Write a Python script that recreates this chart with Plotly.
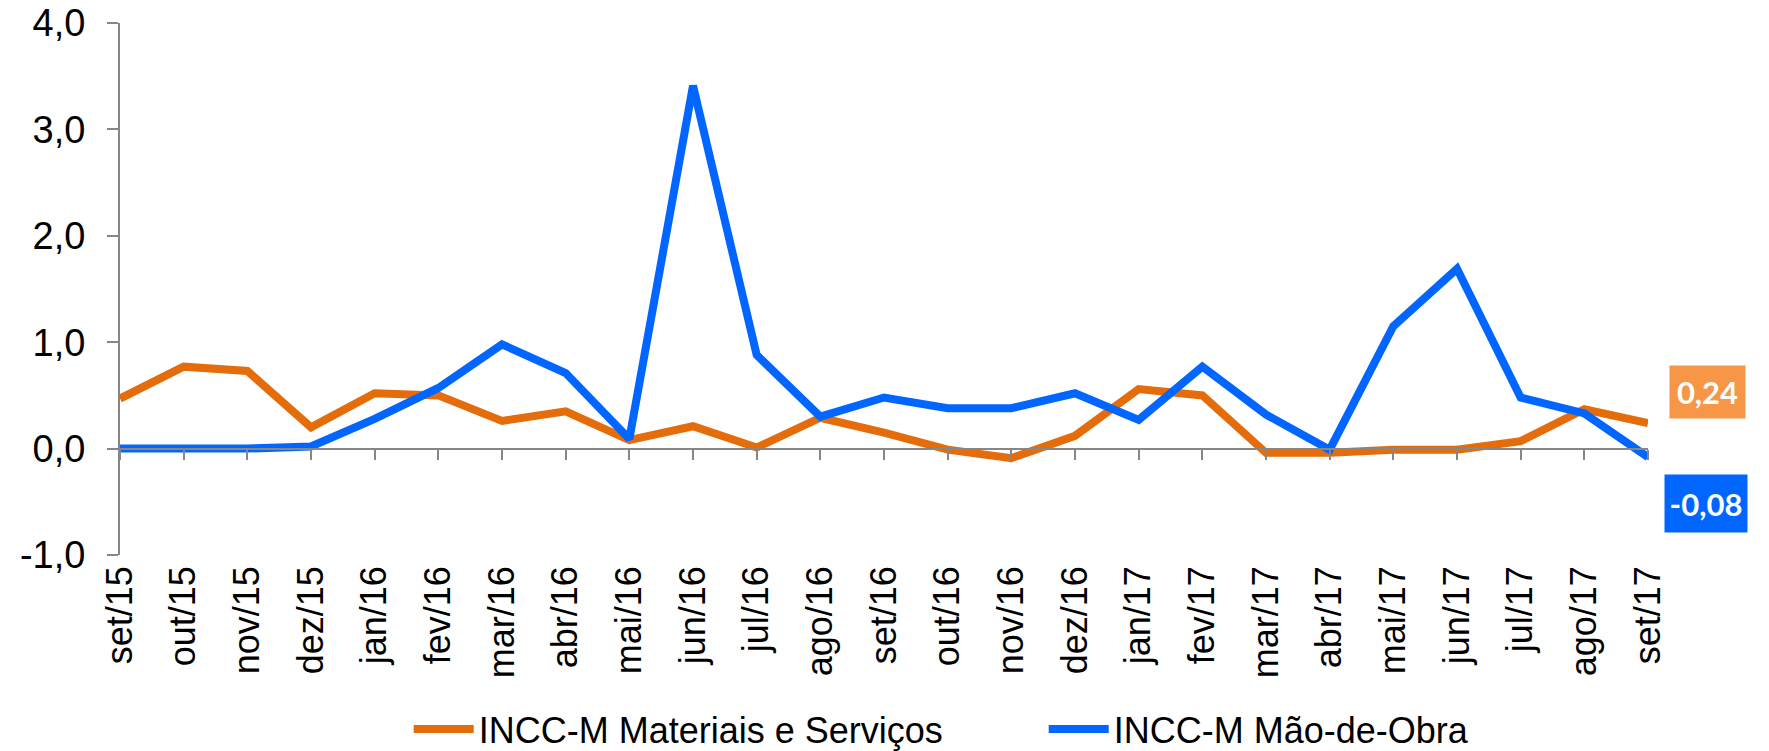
import plotly.graph_objects as go

months = ["set/15", "out/15", "nov/15", "dez/15", "jan/16", "fev/16", "mar/16", "abr/16",
          "mai/16", "jun/16", "jul/16", "ago/16", "set/16", "out/16", "nov/16", "dez/16",
          "jan/17", "fev/17", "mar/17", "abr/17", "mai/17", "jun/17", "jul/17", "ago/17", "set/17"]

materiais = [0.47, 0.77, 0.73, 0.20, 0.52, 0.50, 0.26, 0.35, 0.08, 0.21, 0.01, 0.29,
             0.15, -0.01, -0.09, 0.12, 0.56, 0.50, -0.04, -0.04, -0.01, -0.01, 0.07, 0.37, 0.24]

mao_obra = [0.00, 0.00, 0.00, 0.02, 0.28, 0.57, 0.98, 0.71, 0.09, 3.41, 0.88, 0.30,
            0.48, 0.38, 0.38, 0.52, 0.27, 0.77, 0.32, -0.01, 1.15, 1.69, 0.48, 0.33, -0.08]

y_tick_vals = [-1, 0, 1, 2, 3, 4]
y_tick_text = ["-1,0", "0,0", "1,0", "2,0", "3,0", "4,0"]

name_mat = "INCC-M Materiais e Serviços"
name_mao = "INCC-M Mão-de-Obra"
label_mat = "0,24"
label_mao = "-0,08"

ORANGE = "#E46C0A"
BLUE = "#0066FF"
GRAY = "#868686"
FONT = "Liberation Sans, Arial, sans-serif"

W, H = 1769, 751

fig = go.Figure()
fig.add_trace(go.Scatter(x=months, y=materiais, mode="lines", name=name_mat,
                         line=dict(color=ORANGE, width=8), cliponaxis=False))
fig.add_trace(go.Scatter(x=months, y=mao_obra, mode="lines", name=name_mao,
                         line=dict(color=BLUE, width=8), cliponaxis=False))
# invisible helper trace for the category axis drawn at y = 0
fig.add_trace(go.Scatter(x=list(range(len(months))), y=[0] * len(months), xaxis="x2",
                         mode="lines", line=dict(width=0), showlegend=False,
                         hoverinfo="skip"))

fig.update_layout(
    width=W, height=H,
    margin=dict(l=120, r=121, t=23, b=196, autoexpand=False),
    paper_bgcolor="white", plot_bgcolor="white",
    font=dict(family=FONT, size=36, color="black"),
    showlegend=True,
    legend=dict(orientation="h", xref="container", yref="container",
                x=0.59, xanchor="center", y=1 - 729 / H, yanchor="middle",
                font=dict(size=36, family=FONT), itemwidth=60,
                entrywidth=560, entrywidthmode="pixels",
                bgcolor="rgba(0,0,0,0)"),
    xaxis=dict(type="category", categoryorder="array", categoryarray=months,
               range=[0, len(months) - 1], showgrid=False, zeroline=False,
               showline=False, ticks="", tickangle=-90, automargin=False,
               tickfont=dict(size=36, family=FONT), ticklabelstandoff=3),
    xaxis2=dict(overlaying="x", anchor="free", position=0.2, range=[0, len(months) - 1],
                tick0=0, dtick=1, showticklabels=False, showgrid=False, zeroline=False,
                showline=True, linecolor=GRAY, linewidth=2, automargin=False,
                ticks="outside", ticklen=10, tickwidth=2, tickcolor=GRAY),
    yaxis=dict(range=[-1, 4], tickmode="array", tickvals=y_tick_vals, ticktext=y_tick_text,
               showgrid=False, zeroline=False, showline=True, linecolor=GRAY, linewidth=2,
               ticks="outside", ticklen=11, tickwidth=2, tickcolor=GRAY, automargin=False,
               tickfont=dict(size=38, family=FONT), ticklabelstandoff=14,
               ticklabeloverflow="allow"),
)

fig.add_annotation(x=months[-1], y=materiais[-1], xref="x", yref="y",
                   text="<b>" + label_mat + "</b>", showarrow=False,
                   xshift=59, yshift=31, width=73, height=50, bgcolor="#F79646",
                   font=dict(family="Lato, Open Sans, sans-serif", size=31, color="white"))
fig.add_annotation(x=months[-1], y=mao_obra[-1], xref="x", yref="y",
                   text="<b>" + label_mao + "</b>", showarrow=False,
                   xshift=58, yshift=-46, width=80, height=55, bgcolor=BLUE,
                   font=dict(family="Lato, Open Sans, sans-serif", size=31, color="white"))

fig.write_html("out.html", config={"displayModeBar": False},
               post_script="document.body.style.margin='0';document.body.style.overflow='hidden';")
